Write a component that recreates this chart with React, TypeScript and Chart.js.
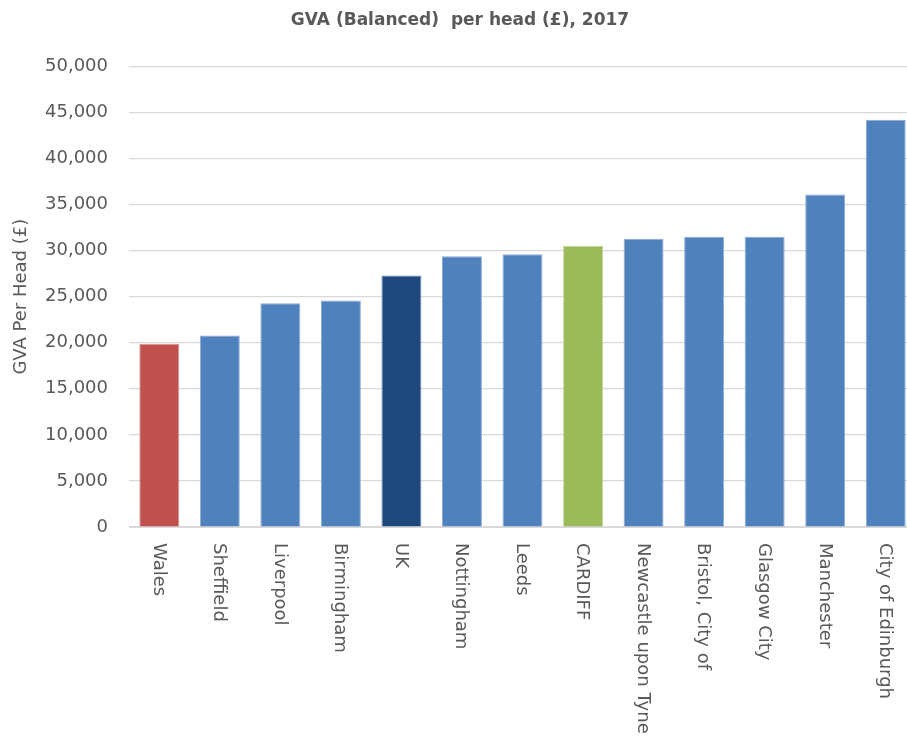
import React, { useEffect, useRef } from "react";
import { Chart, registerables } from "chart.js";

Chart.register(...registerables);

const categories = [
  "Wales",
  "Sheffield",
  "Liverpool",
  "Birmingham",
  "UK",
  "Nottingham",
  "Leeds",
  "CARDIFF",
  "Newcastle upon Tyne",
  "Bristol, City of",
  "Glasgow City",
  "Manchester",
  "City of Edinburgh",
];
const gvaPerHead = [19900, 20800, 24300, 24600, 27300, 29400, 29600, 30500, 31300, 31500, 31500, 36100, 44200];
const barColors = [
  "#C0504D",
  "#4F81BD",
  "#4F81BD",
  "#4F81BD",
  "#1F497D",
  "#4F81BD",
  "#4F81BD",
  "#9BBB59",
  "#4F81BD",
  "#4F81BD",
  "#4F81BD",
  "#4F81BD",
  "#4F81BD",
];
const borderColors = [
  "#D9908E",
  "#8CACD6",
  "#8CACD6",
  "#8CACD6",
  "#6E8CB5",
  "#8CACD6",
  "#8CACD6",
  "#C3D79C",
  "#8CACD6",
  "#8CACD6",
  "#8CACD6",
  "#8CACD6",
  "#8CACD6",
];
const titleText = "GVA (Balanced)  per head (£), 2017";
const yAxisTitle = "GVA Per Head (£)";

const TEXT = "#595959";
const FONT = "'DejaVu Sans', sans-serif";

const rotatedLabels = {
  id: "rotatedLabels",
  afterDraw(chart: any) {
    const { ctx, chartArea } = chart;
    const xs = chart.scales.x;
    ctx.save();
    ctx.fillStyle = TEXT;
    ctx.font = `18px ${FONT}`;
    ctx.textAlign = "left";
    ctx.textBaseline = "middle";
    categories.forEach((label, i) => {
      const x = xs.getPixelForValue(i);
      ctx.save();
      ctx.translate(x - 1, chartArea.bottom + 16);
      ctx.rotate(Math.PI / 2);
      ctx.fillText(label, 0, 0);
      ctx.restore();
    });
    ctx.restore();
  },
};

export default function App() {
  const ref = useRef<HTMLCanvasElement>(null);
  useEffect(() => {
    if (!ref.current) return;
    const chart = new Chart(ref.current, {
      type: "bar",
      data: {
        labels: categories,
        datasets: [
          {
            data: gvaPerHead,
            backgroundColor: barColors,
            borderColor: borderColors,
            borderWidth: 1,
            barPercentage: 0.66,
            categoryPercentage: 1,
          },
        ],
      },
      options: {
        responsive: false,
        animation: false,
        layout: { padding: { left: 4, right: 0, top: 0, bottom: 0 } },
        plugins: {
          legend: { display: false },
          tooltip: { enabled: false },
          title: {
            display: true,
            text: titleText,
            color: TEXT,
            font: { family: FONT, size: 17, weight: "bold" },
            padding: { top: 10, bottom: 36 },
          },
        },
        scales: {
          x: {
            grid: { display: false },
            border: { display: true, color: "#D9D9D9", width: 1 },
            ticks: { display: false },
            afterFit: (s: any) => {
              s.height = 222;
            },
          },
          y: {
            min: 0,
            max: 50000,
            ticks: {
              stepSize: 5000,
              color: TEXT,
              font: { family: FONT, size: 18 },
              padding: 21,
              callback: (v: any) => Number(v).toLocaleString("en-GB"),
            },
            grid: { color: "#D9D9D9", lineWidth: 1.2, drawTicks: false },
            border: { display: false },
            title: {
              display: true,
              text: yAxisTitle,
              color: TEXT,
              font: { family: FONT, size: 18 },
              padding: { top: 7, bottom: 0 },
            },
            afterFit: (s: any) => {
              s.width = 125;
            },
          },
        },
      },
      plugins: [rotatedLabels],
    });
    return () => chart.destroy();
  }, []);
  return (
    <div style={{ position: "absolute", left: 0, top: 0, width: 907, height: 749, overflow: "hidden", background: "#fff" }}>
      <canvas ref={ref} width={916} height={749} style={{ display: "block" }} />
    </div>
  );
}
